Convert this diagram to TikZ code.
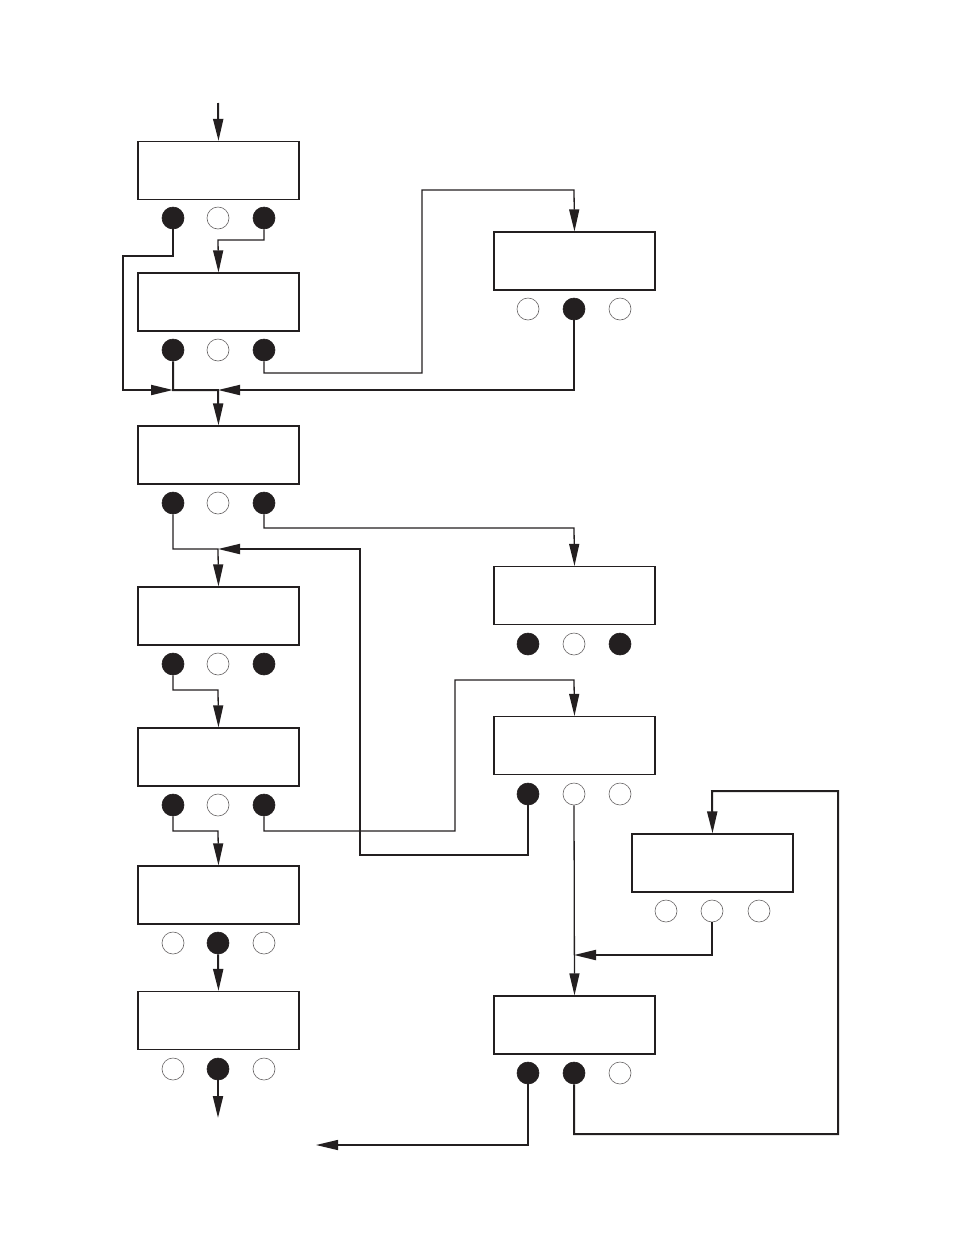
\documentclass[tikz,border=0pt]{standalone}
\usetikzlibrary{arrows.meta}
\definecolor{ink}{HTML}{231F20}
\begin{document}
\begin{tikzpicture}[x=1pt,y=-1pt,
  box/.style={draw=ink,line width=1.2pt,minimum width=161pt,minimum height=58pt,inner sep=0pt},
  fullc/.style={circle,fill=ink,draw=ink,line width=0.6pt,minimum size=22pt,inner sep=0pt},
  emptyc/.style={circle,draw=ink!70,line width=0.6pt,minimum size=22pt,inner sep=0pt},
  tip/.style={-{Triangle[length=22pt,width=10pt]}},
  conn/.style={draw=ink,line width=1.3pt},
  thk/.style={draw=ink,line width=2pt}]
\useasboundingbox (0,0) rectangle (954,1235);
% left column boxes
\node[box] (b1) at (218.5,170.5) {};
\node[box] (b2) at (218.5,302) {};
\node[box] (b3) at (218.5,455) {};
\node[box] (b4) at (218.5,616) {};
\node[box] (b5) at (218.5,757) {};
\node[box] (b6) at (218.5,895) {};
\node[box] (b7) at (218.5,1020.5) {};
% right column boxes
\node[box] (r1) at (574.5,261) {};
\node[box] (r2) at (574.5,595.5) {};
\node[box] (r3) at (574.5,745.5) {};
\node[box] (r4) at (712.5,863) {};
\node[box] (r5) at (574.5,1025) {};
% circles left
\node[fullc]  (b1c1) at (173,218) {};
\node[emptyc] (b1c2) at (218,218) {};
\node[fullc]  (b1c3) at (264,218) {};
\node[fullc]  (b2c1) at (173,350) {};
\node[emptyc] (b2c2) at (218,350) {};
\node[fullc]  (b2c3) at (264,350) {};
\node[fullc]  (b3c1) at (173,503) {};
\node[emptyc] (b3c2) at (218,503) {};
\node[fullc]  (b3c3) at (264,503) {};
\node[fullc]  (b4c1) at (173,664) {};
\node[emptyc] (b4c2) at (218,664) {};
\node[fullc]  (b4c3) at (264,664) {};
\node[fullc]  (b5c1) at (173,805) {};
\node[emptyc] (b5c2) at (218,805) {};
\node[fullc]  (b5c3) at (264,805) {};
\node[emptyc] (b6c1) at (173,943) {};
\node[fullc]  (b6c2) at (218,943) {};
\node[emptyc] (b6c3) at (264,943) {};
\node[emptyc] (b7c1) at (173,1069) {};
\node[fullc]  (b7c2) at (218,1069) {};
\node[emptyc] (b7c3) at (264,1069) {};
% circles right
\node[emptyc] (r1c1) at (528,309) {};
\node[fullc]  (r1c2) at (574,309) {};
\node[emptyc] (r1c3) at (620,309) {};
\node[fullc]  (r2c1) at (528,644) {};
\node[emptyc] (r2c2) at (574,644) {};
\node[fullc]  (r2c3) at (620,644) {};
\node[fullc]  (r3c1) at (528,794) {};
\node[emptyc] (r3c2) at (574,794) {};
\node[emptyc] (r3c3) at (620,794) {};
\node[emptyc] (r4c1) at (666,911) {};
\node[emptyc] (r4c2) at (712,911) {};
\node[emptyc] (r4c3) at (759,911) {};
\node[fullc]  (r5c1) at (528,1073) {};
\node[fullc]  (r5c2) at (574,1073) {};
\node[emptyc] (r5c3) at (620,1073) {};
% junctions and free ends
\coordinate (start) at (218,103);
\coordinate (j1) at (218,390);
\coordinate (j2) at (218,549);
\coordinate (j3) at (574,955);
\coordinate (out1) at (218,1118);
\coordinate (out2) at (316,1145);
% connectors
\draw[thk,tip] (start) -- (b1.north);
\draw[conn,tip] (b1c3.south) -- (264,240) -- (218,240) -- (b2.north);
\draw[thk,tip] (b1c1.south) -- (173,256) -- (123,256) -- (123,390) -- (173,390);
\draw[thk,tip] (b2c1.south) -- (173,390) -- (j1) -- (b3.north);
\draw[conn,tip] (b2c3.south) -- (264,373) -- (422,373) -- (422,190) -- (574,190) -- (r1.north);
\draw[thk,tip] (r1c2.south) -- (574,390) -- (j1);
\draw[conn,tip] (b3c1.south) -- (173,549) -- (j2) -- (b4.north);
\draw[conn,tip] (b3c3.south) -- (264,528) -- (574,528) -- (r2.north);
\draw[thk,tip] (r3c1.south) -- (528,855) -- (360,855) -- (360,549) -- (j2);
\draw[conn,tip] (b4c1.south) -- (173,690) -- (218,690) -- (b5.north);
\draw[conn,tip] (b5c1.south) -- (173,831) -- (218,831) -- (b6.north);
\draw[conn,tip] (b5c3.south) -- (264,831) -- (455,831) -- (455,680) -- (574,680) -- (r3.north);
\draw[thk,tip] (b6c2.south) -- (b7.north);
\draw[thk,tip] (b7c2.south) -- (out1);
\draw[conn,tip] (r3c2.south) -- (r5.north);
\draw[thk,tip] (r4c2.south) -- (712,955) -- (j3);
\draw[thk,tip] (r5c2.south) -- (574,1134) -- (838,1134) -- (838,791) -- (712,791) -- (r4.north);
\draw[conn,tip] (r5c1.south) -- (528,1145) -- (out2);
\end{tikzpicture}
\end{document}
